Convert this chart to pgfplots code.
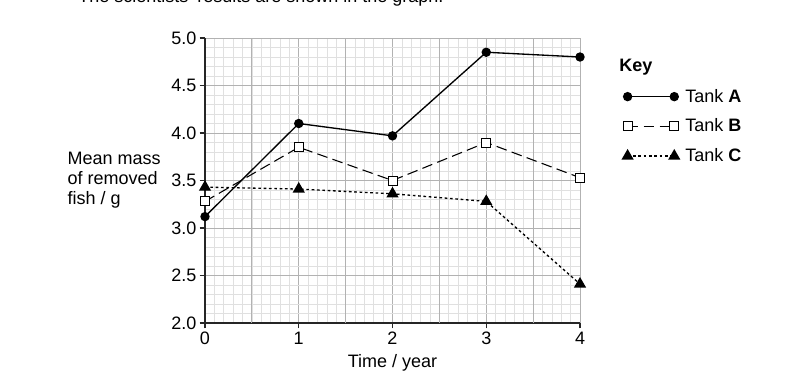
\documentclass[border=0pt]{standalone}
\usepackage{pgfplots}
\pgfplotsset{compat=1.18}
\usepackage{fontspec}
\setmainfont{Liberation Sans}
\begin{document}
\begin{tikzpicture}[font=\fontsize{13.5}{15}\selectfont]
\begin{scope}
\clip (0,0) rectangle (591pt,284.25pt);
\node[anchor=base west, inner sep=0pt] at (58.5pt,282pt) {The scientists' results are shown in the graph.};
\end{scope}
\begin{axis}[
  at={(153.75pt,42pt)}, anchor=south west,
  scale only axis, width=281.25pt, height=213.75pt,
  xmin=0, xmax=4, ymin=2, ymax=5,
  axis lines*=left,
  axis line style={black!85, line width=0.9pt},
  xtick={0,1,2,3,4},
  ytick={2,2.5,3,3.5,4,4.5,5},
  minor x tick num=9,
  minor y tick num=4,
  extra x ticks={0.5,1.5,2.5,3.5},
  extra x tick labels={},
  extra x tick style={grid=major, major tick length=0pt},
  grid=both,
  major grid style={draw=black!30, line width=0.6pt},
  minor grid style={draw=black!12, line width=0.45pt},
  tick align=outside,
  major tick length=4pt,
  minor tick length=0pt,
  tick style={black!85, line width=0.8pt},
  /pgf/number format/assume math mode=true,
  yticklabel style={/pgf/number format/fixed, /pgf/number format/precision=1, /pgf/number format/fixed zerofill, xshift=1pt},
  xticklabel style={yshift=1pt},
  xlabel={Time / year},
  xlabel style={yshift=3pt},
  ylabel={Mean mass\\of removed\\fish / g},
  ylabel style={rotate=-90, at={(axis description cs:-0.379,0.50)}, anchor=west, align=left},
  legend style={at={(axis description cs:1.113,0.69)}, anchor=west, draw=none, fill=none, inner sep=0pt, row sep=7pt, font=\fontsize{13.5}{15}\selectfont,
    /tikz/every odd column/.append style={column sep=2.5pt}},
  legend cell align=left,
  legend image code/.code={\draw[#1] plot coordinates {(0pt,0pt) (35pt,0pt)};},
  clip=false,
]
\addplot[black, line width=1pt, mark=*, mark size=3pt, mark options={solid, fill=black}]
  coordinates {(0,3.12) (1,4.10) (2,3.97) (3,4.85) (4,4.80)};
\addlegendentry{Tank \textbf{A}}
\addplot[black, line width=0.8pt, dash pattern=on 8pt off 4pt, mark=square*, mark size=3.4pt, mark options={solid, fill=white, line width=0.7pt}]
  coordinates {(0,3.28) (1,3.85) (2,3.50) (3,3.90) (4,3.53)};
\addlegendentry{Tank \textbf{B}}
\addplot[black, line width=1pt, dash pattern=on 2pt off 2pt, mark=triangle*, mark size=4.3pt, mark options={solid, fill=black}]
  coordinates {(0,3.43) (1,3.41) (2,3.36) (3,3.28) (4,2.41)};
\addlegendentry{Tank \textbf{C}}
\node[anchor=west, inner sep=0pt, font=\fontsize{13.5}{15}\selectfont\bfseries] at (axis description cs:1.104,0.898) {Key};
\end{axis}
\pgfresetboundingbox
\useasboundingbox (0,0) rectangle (591pt,284.25pt);
\end{tikzpicture}
\end{document}
